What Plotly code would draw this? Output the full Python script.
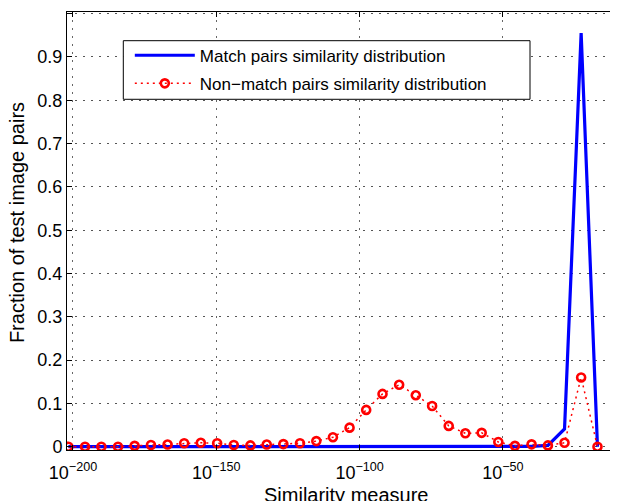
import plotly.graph_objects as go

# log10 of bin positions (similarity measure exponents)
exponents = [-201.6, -195.8, -190.1, -184.3, -178.5, -172.8, -167.0, -161.2, -155.4,
             -149.7, -143.9, -138.1, -132.4, -126.6, -120.8, -115.1, -109.3, -103.5,
             -97.7, -92.0, -86.2, -80.4, -74.7, -68.9, -63.1, -57.4, -51.6, -45.8,
             -40.0, -34.3, -28.5, -22.7, -17.0]

match_vals = [0, 0, 0, 0, 0, 0, 0, 0, 0, 0, 0, 0, 0, 0, 0, 0, 0, 0, 0, 0, 0, 0,
              0, 0, 0, 0, 0, 0, 0.001, 0.003, 0.041, 0.955, 0]

nonmatch_vals = [0, 0, 0, 0, 0.002, 0.004, 0.005, 0.008, 0.009, 0.008, 0.004, 0.003,
                 0.005, 0.006, 0.008, 0.013, 0.022, 0.044, 0.085, 0.122, 0.143, 0.119,
                 0.094, 0.048, 0.031, 0.032, 0.011, 0.002, 0.0055, 0.003, 0.009, 0.160, 0]

xtick_exps = [-200, -150, -100, -50]
xtick_text = ["10<sup>\u2212200</sup>", "10<sup>\u2212150</sup>",
              "10<sup>\u2212100</sup>", "10<sup>\u221250</sup>"]
ytick_vals = [0, 0.1, 0.2, 0.3, 0.4, 0.5, 0.6, 0.7, 0.8, 0.9, 1]
ytick_text = ["0", "0.1", "0.2", "0.3", "0.4", "0.5", "0.6", "0.7", "0.8", "0.9", "1"]

x_title = "Similarity measure"
y_title = "Fraction of test image pairs"

x = [10.0 ** e for e in exponents]

FONT = "Liberation Sans, Arial, Helvetica, sans-serif"

fig = go.Figure()
fig.add_trace(go.Scatter(
    x=x, y=match_vals, mode="lines",
    name="Match pairs similarity distribution", legendgroup="m",
    line=dict(color="#0000FF", width=3.2),
))
fig.add_trace(go.Scatter(
    x=x, y=nonmatch_vals, mode="lines+markers",
    name="Non\u2212match pairs similarity distribution", legendgroup="n",
    line=dict(color="#FF0000", width=1.5, dash="2px,4px"),
    marker=dict(symbol="circle-open", size=8, color="#FF0000",
                line=dict(color="#FF0000", width=2.6)),
))

grid_dash = "2px,6px"
# page body has an 8px margin: figure is sized/placed to compensate
fig.update_layout(
    width=610, height=493,
    margin=dict(l=59, r=0, t=4, b=51),
    paper_bgcolor="white", plot_bgcolor="white",
    font=dict(family=FONT, size=18, color="black"),
    showlegend=True,
    legend=dict(
        x=0.114, y=0.9413, xanchor="left", yanchor="top",
        orientation="v", traceorder="grouped", tracegroupgap=3,
        bgcolor="rgba(0,0,0,0)", borderwidth=0,
        font=dict(family=FONT, size=17, color="black"),
        itemwidth=60,
    ),
    shapes=[
        dict(type="rect", xref="paper", yref="paper",
             x0=0.1022, x1=0.8403, y0=0.8007, y1=0.9345,
             line=dict(color="black", width=1), fillcolor="white", layer="above"),
    ],
    xaxis=dict(
        type="log",
        range=[-202.09, -9.84],
        tickvals=[10.0 ** e for e in xtick_exps],
        ticktext=xtick_text,
        showline=True, linecolor="black", linewidth=1,
        mirror="ticks", ticks="inside", ticklen=5, tickcolor="black",
        showgrid=True, gridcolor="#666666", gridwidth=1, griddash=grid_dash,
        zeroline=False,
        ticklabelstandoff=6,
        tickfont=dict(family=FONT, size=18, color="black"),
        automargin=False,
    ),
    yaxis=dict(
        range=[-0.0076, 1.0039],
        tickvals=ytick_vals, ticktext=ytick_text,
        showline=True, linecolor="black", linewidth=1,
        ticks="inside", ticklen=5, tickcolor="black",
        showgrid=True, gridcolor="#555555", gridwidth=1, griddash=grid_dash,
        zeroline=False,
        tickfont=dict(family=FONT, size=18, color="black"),
        automargin=False,
    ),
    annotations=[
        dict(text=x_title, xref="paper", yref="paper", x=0.507, y=0,
             xanchor="center", yanchor="top", yshift=-32, showarrow=False,
             font=dict(family=FONT, size=20, color="black")),
        dict(text=y_title, xref="paper", yref="paper", x=0, y=0.518,
             xanchor="center", yanchor="middle", xshift=-50, textangle=-90,
             showarrow=False, font=dict(family=FONT, size=20, color="black")),
    ],
)

fig.write_html("out.html")
